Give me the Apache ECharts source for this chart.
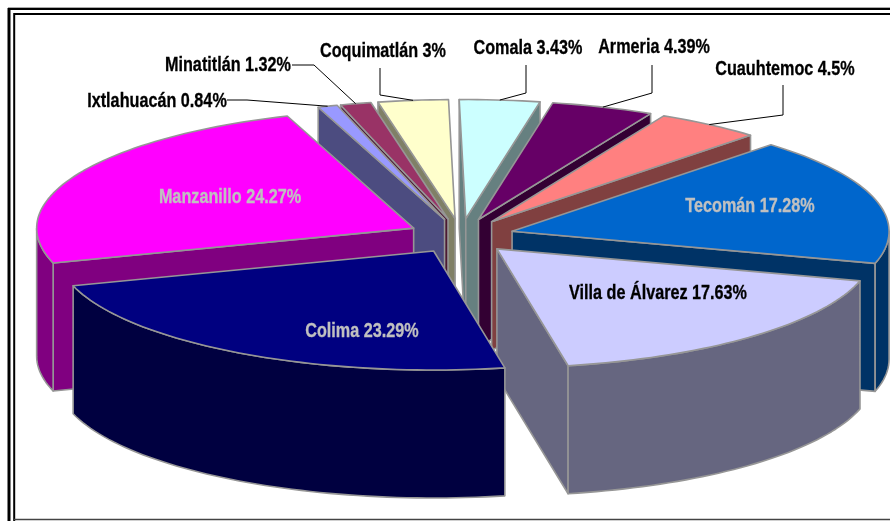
<!DOCTYPE html>
<html>
<head>
<meta charset="utf-8">
<style>html,body{margin:0;padding:0;background:#fff}#chart{width:890px;height:521px}</style>
<script src="https://cdn.jsdelivr.net/npm/echarts@6/dist/echarts.min.js"></script>
</head>
<body>
<div id="chart"></div>
<script>
// Data, clockwise from 12 o'clock
var categories = ['Comala','Armeria','Cuauhtemoc','Tecomán','Villa de Álvarez','Colima','Manzanillo','Ixtlahuacán','Minatitlán','Coquimatlán'];
var shares = [3.43,4.39,4.5,17.28,17.63,23.29,24.27,0.84,1.32,3];
var shareLabels = ['3.43%','4.39%','4.5%','17.28%','17.63%','23.29%','24.27%','0.84%','1.32%','3%'];
var topColors = ['#CCFFFF','#660066','#FF8080','#0066CC','#CCCCFF','#000080','#FF00FF','#9999FF','#993366','#FFFFCC'];
var wallColors = ['#668080','#330033','#804040','#003366','#666680','#000040','#800080','#4C4C80','#4C1933','#808066'];
var labelColors = ['#000','#000','#000','#C0C0C0','#000','#C0C0C0','#C0C0C0','#000','#000','#000'];
// label centres (layout only)
var labelCentres = [[528,48],[654,47],[785,69],[750,206],[658,293],[362,331],[230,197],[157,101],[228,65],[383,51]];
// leader elbows (layout only); null = label sits inside slice
var leaderElbows = [
  [[526,65],[526,93]], [[652,65],[652,93]], [[783,85],[783,115]], null, null, null, null,
  [[227,100],[247,100]], [[292,65],[314,65]], [[380,68],[380,95]]
];
// pie projection
var view = {cx:461, cy:236, rx:377, ry:119, depth:128, pull:53, pullY:17.5, rot:-1};

var total = shares.reduce(function(a,b){return a+b;},0);
var slices = [], acc = 0;
shares.forEach(function(v,i){
  var a0 = view.rot + acc/total*360; acc += v;
  var a1 = view.rot + acc/total*360;
  slices.push({i:i, a0:a0, a1:a1, mid:(a0+a1)/2});
});
function rad(d){return d*Math.PI/180;}
function apexOf(s){
  return [view.cx + Math.sin(rad(s.mid))*view.pull, view.cy - Math.cos(rad(s.mid))*view.pullY];
}
function rimOf(s,a){
  var p = apexOf(s);
  return [p[0] + Math.sin(rad(a))*view.rx, p[1] - Math.cos(rad(a))*view.ry];
}
function down(p){return [p[0], p[1]+view.depth];}
function arc(s,a,b){
  var pts=[], n=Math.max(2,Math.ceil((b-a)/1.5));
  for(var k=0;k<=n;k++) pts.push(rimOf(s,a+(b-a)*k/n));
  return pts;
}
var paintOrder = slices.slice().sort(function(p,q){return Math.cos(rad(q.mid))-Math.cos(rad(p.mid));});
var edge = {stroke:'#969696', lineWidth:1.6, lineJoin:'round'};

function face(points,fill){
  return {type:'polygon', shape:{points:points}, style:Object.assign({fill:fill},edge)};
}
function renderSlice(params, api){
  var s = slices[api.value(0)], kids=[], p=apexOf(s), w=wallColors[s.i];
  if(Math.cos(rad(s.a0-90))<0){var r0=rimOf(s,s.a0); kids.push(face([p,r0,down(r0),down(p)],w));}
  if(Math.cos(rad(s.a1+90))<0){var r1=rimOf(s,s.a1); kids.push(face([p,r1,down(r1),down(p)],w));}
  [[90,270],[450,630]].forEach(function(r){
    var a=Math.max(s.a0,r[0]), b=Math.min(s.a1,r[1]);
    if(b>a){
      var top=arc(s,a,b), low=top.map(down).reverse();
      kids.push(face(top.concat(low),w));
    }
  });
  kids.push(face([p].concat(arc(s,s.a0,s.a1)),topColors[s.i]));
  return {type:'group',children:kids};
}
function renderLabel(params, api){
  var i = api.value(0), s = slices[i], kids=[], c = labelCentres[i];
  if(leaderElbows[i]){
    var end = rimOf(s,s.mid);
    kids.push({type:'polyline',shape:{points:leaderElbows[i].concat([end])},
      style:{fill:'none',stroke:'#000',lineWidth:1}});
  }
  kids.push({type:'text',x:c[0],y:c[1],scaleX:0.81,
    style:{text:categories[i]+' '+shareLabels[i],fill:labelColors[i],
      stroke:labelColors[i],lineWidth:0.3,
      font:'bold 20px "Liberation Sans",Arial,sans-serif',
      align:'center',verticalAlign:'middle'}});
  return {type:'group',children:kids};
}
function frameLine(x1,y1,x2,y2,w,c){
  return {type:'line',shape:{x1:x1,y1:y1,x2:x2,y2:y2},style:{stroke:c,lineWidth:w},silent:true};
}
var chart = echarts.init(document.getElementById('chart'),null,{renderer:'canvas'});
chart.setOption({
  animation:false,
  backgroundColor:'#fff',
  graphic:{elements:[
    frameLine(9,9,890,9,2,'#000'), frameLine(8,7.5,890,7.5,1,'#aaa'),
    frameLine(9,8,9,521,3,'#000'),
    frameLine(14.5,14,890,14,2,'#000'),
    frameLine(14.2,13,14.2,521,2,'#000'),
    frameLine(14,519.5,890,519.5,1.5,'#444')
  ]},
  series:[
    {type:'custom',coordinateSystem:'none',renderItem:renderSlice,z:2,
     data:paintOrder.map(function(s){return [s.i,shares[s.i]];})},
    {type:'custom',coordinateSystem:'none',renderItem:renderLabel,z:3,
     data:categories.map(function(n,i){return [i,shares[i]];})}
  ]
});
</script>
</body>
</html>
